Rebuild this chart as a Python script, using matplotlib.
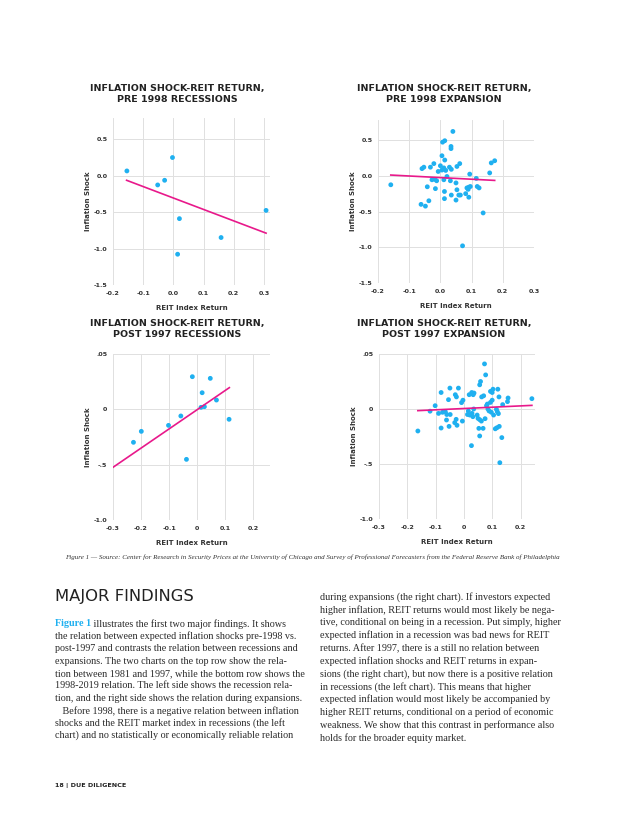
import matplotlib
matplotlib.use("Agg")
import matplotlib.pyplot as plt

# ---------------- data ----------------
titles = ["INFLATION SHOCK-REIT RETURN,\nPRE 1998 RECESSIONS",
          "INFLATION SHOCK-REIT RETURN,\nPRE 1998 EXPANSION",
          "INFLATION SHOCK-REIT RETURN,\nPOST 1997 RECESSIONS",
          "INFLATION SHOCK-REIT RETURN,\nPOST 1997 EXPANSION"]
x_label = "REIT Index Return"
y_label = "Inflation Shock"

top_xticks = [-0.2, -0.1, 0.0, 0.1, 0.2, 0.3]
top_xticklabels = ["-0.2", "-0.1", "0.0", "0.1", "0.2", "0.3"]
top_yticks = [0.5, 0.0, -0.5, -1.0, -1.5]
top_yticklabels = ["0.5", "0.0", "-0.5", "-1.0", "-1.5"]
bot_xticks = [-0.3, -0.2, -0.1, 0.0, 0.1, 0.2]
bot_xticklabels = ["-0.3", "-0.2", "-0.1", "0", "0.1", "0.2"]
bot_yticks = [0.5, 0.0, -0.5, -1.0]
bot_yticklabels = [".05", "0", "-.5", "-1.0"]

p1_x = [-0.154, -0.052, -0.029, -0.003, 0.020, 0.014, 0.158, 0.307]
p1_y = [0.064, -0.128, -0.064, 0.248, -0.590, -1.078, -0.849, -0.477]
p1_fit_x = [-0.155, 0.307]
p1_fit_y = [-0.064, -0.789]

p2_x = [0.040, 0.007, 0.014, 0.034, 0.034, 0.005, 0.014, -0.059, -0.053, -0.032,
        -0.021, 0.000, -0.007, 0.005, 0.011, 0.017, 0.029, 0.035, 0.053, 0.062,
        0.021, 0.011, 0.032, 0.050, -0.027, -0.018, -0.012, -0.042, -0.016, 0.013,
        0.053, 0.035, 0.059, 0.064, 0.013, 0.050, -0.037, -0.062, -0.048, -0.159,
        0.071, 0.094, 0.115, 0.085, 0.091, 0.096, 0.089, 0.081, 0.091, 0.118,
        0.124, 0.137, 0.158, 0.163, 0.174]
p2_y = [0.62, 0.47, 0.49, 0.41, 0.38, 0.28, 0.22, 0.10, 0.12, 0.12,
        0.17, 0.14, 0.06, 0.08, 0.11, 0.075, 0.12, 0.09, 0.13, 0.17,
        -0.01, -0.056, -0.07, -0.10, -0.056, -0.05, -0.07, -0.154, -0.18, -0.22,
        -0.196, -0.27, -0.27, -0.27, -0.32, -0.34, -0.35, -0.40, -0.425, -0.126,
        -0.98, 0.023, -0.037, -0.17, -0.16, -0.15, -0.19, -0.25, -0.30, -0.15,
        -0.17, -0.52, 0.04, 0.18, 0.21]
p2_fit_x = [-0.159, 0.174]
p2_fit_y = [0.010, -0.065]

p3_x = [-0.227, -0.199, -0.102, -0.058, -0.038, -0.017, 0.018, 0.014, 0.026, 0.047, 0.069, 0.114]
p3_y = [-0.298, -0.199, -0.145, -0.060, -0.452, 0.295, 0.150, 0.018, 0.024, 0.280, 0.084, -0.090]
p3_fit_x = [-0.300, 0.115]
p3_fit_y = [-0.524, 0.196]

p4_x = [0.072, 0.076, 0.058, 0.055, -0.081, -0.050, -0.020, -0.031, -0.027, -0.055,
        -0.009, -0.004, 0.027, 0.032, 0.018, 0.035, 0.062, 0.069, 0.093, 0.099,
        0.102, 0.119, 0.123, 0.155, 0.153, 0.136, 0.239, -0.102, -0.120, -0.090,
        -0.076, -0.066, -0.061, -0.049, -0.062, -0.028, -0.033, -0.025, -0.053, -0.081,
        -0.006, 0.015, 0.012, 0.020, 0.028, 0.034, 0.031, 0.046, 0.049, 0.055,
        0.061, 0.074, 0.052, 0.055, 0.067, 0.026, 0.079, 0.082, 0.084, 0.088,
        0.093, 0.099, 0.104, 0.096, 0.114, 0.117, 0.121, 0.110, 0.116, 0.124,
        0.133, 0.126, -0.163]
p4_y = [0.41, 0.31, 0.25, 0.22, 0.15, 0.19, 0.19, 0.13, 0.11, 0.085,
        0.058, 0.08, 0.15, 0.13, 0.13, 0.145, 0.11, 0.12, 0.16, 0.15,
        0.18, 0.18, 0.11, 0.10, 0.067, 0.04, 0.094, 0.03, -0.02, -0.04,
        -0.03, -0.025, -0.05, -0.05, -0.10, -0.094, -0.124, -0.148, -0.158, -0.173,
        -0.11, -0.018, -0.05, -0.055, -0.04, 0.0, -0.07, -0.055, -0.085, -0.097,
        -0.11, -0.088, -0.176, -0.245, -0.176, -0.333, 0.03, 0.045, 0.0, -0.018,
        0.06, 0.08, -0.055, -0.03, -0.003, -0.024, -0.042, -0.18, -0.17, -0.158,
        -0.26, -0.488, -0.20]
p4_fit_x = [-0.163, 0.239]
p4_fit_y = [-0.015, 0.033]

caption = ("Figure 1 \u2014 Source: Center for Research in Security Prices at the University of Chicago "
           "and Survey of Professional Forecasters from the Federal Reserve Bank of Philadelphia")
heading = "MAJOR FINDINGS"
link_text = "Figure 1"
left_lines = [
    " illustrates the first two major findings. It shows",
    "the relation between expected inflation shocks pre-1998 vs.",
    "post-1997 and contrasts the relation between recessions and",
    "expansions. The two charts on the top row show the rela-",
    "tion between 1981 and 1997, while the bottom row shows the",
    "1998-2019 relation. The left side shows the recession rela-",
    "tion, and the right side shows the relation during expansions.",
    "   Before 1998, there is a negative relation between inflation",
    "shocks and the REIT market index in recessions (the left",
    "chart) and no statistically or economically reliable relation",
]
right_lines = [
    "during expansions (the right chart). If investors expected",
    "higher inflation, REIT returns would most likely be nega-",
    "tive, conditional on being in a recession. Put simply, higher",
    "expected inflation in a recession was bad news for REIT",
    "returns. After 1997, there is a still no relation between",
    "expected inflation shocks and REIT returns in expan-",
    "sions (the right chart), but now there is a positive relation",
    "in recessions (the left chart). This means that higher",
    "expected inflation would most likely be accompanied by",
    "higher REIT returns, conditional on a period of economic",
    "weakness. We show that this contrast in performance also",
    "holds for the broader equity market.",
]
footer = "18 | DUE DILIGENCE"

# ---------------- styling ----------------
W, H = 640, 818
plt.rcParams["axes.unicode_minus"] = False
fig = plt.figure(figsize=(W / 100, H / 100), dpi=100)
fig.patch.set_facecolor("white")

DOT = "#1fb0f0"
LINE = "#e8198b"
GRID = "#e0e0e0"
TXT = "#333333"


def rect(l, t, r, b):
    return [l / W, 1 - b / H, (r - l) / W, (b - t) / H]


panels = [
    dict(box=(113, 118, 270, 285), x=p1_x, y=p1_y, fx=p1_fit_x, fy=p1_fit_y,
         xlim=(-0.2, 0.32), ylim=(-1.5, 0.79), xt=top_xticks, xtl=top_xticklabels,
         yt=top_yticks, ytl=top_yticklabels, tc=177, ty=94),
    dict(box=(378, 120, 534, 283), x=p2_x, y=p2_y, fx=p2_fit_x, fy=p2_fit_y,
         xlim=(-0.2, 0.3), ylim=(-1.5, 0.78), xt=top_xticks, xtl=top_xticklabels,
         yt=top_yticks, ytl=top_yticklabels, tc=444, ty=94),
    dict(box=(113, 354, 270, 520), x=p3_x, y=p3_y, fx=p3_fit_x, fy=p3_fit_y,
         xlim=(-0.3, 0.26), ylim=(-1.0, 0.5), xt=bot_xticks, xtl=bot_xticklabels,
         yt=bot_yticks, ytl=bot_yticklabels, tc=177, ty=329),
    dict(box=(379, 354, 535, 519), x=p4_x, y=p4_y, fx=p4_fit_x, fy=p4_fit_y,
         xlim=(-0.3, 0.25), ylim=(-1.0, 0.5), xt=bot_xticks, xtl=bot_xticklabels,
         yt=bot_yticks, ytl=bot_yticklabels, tc=444, ty=329),
]

for i, p in enumerate(panels):
    ax = fig.add_axes(rect(*p["box"]))
    ax.set_xlim(*p["xlim"])
    ax.set_ylim(*p["ylim"])
    for s in ax.spines.values():
        s.set_visible(False)
    ax.set_xticks(p["xt"])
    ax.set_xticklabels(p["xtl"])
    ax.set_yticks(p["yt"])
    ax.set_yticklabels(p["ytl"])
    ax.tick_params(length=0, labelsize=4.6, labelcolor=TXT, pad=4)
    for lab in ax.get_xticklabels() + ax.get_yticklabels():
        lab.set_fontweight("bold")
    ax.grid(True, color=GRID, linewidth=0.7)
    ax.set_axisbelow(True)
    ax.scatter(p["x"], p["y"], s=12, color=DOT, edgecolors="none", zorder=3)
    ax.plot(p["fx"], p["fy"], color=LINE, linewidth=1.2, zorder=4)
    ax.set_xlabel(x_label, fontsize=5, color=TXT, fontweight="bold", labelpad=7)
    ax.set_ylabel(y_label, fontsize=5, color=TXT, fontweight="bold", labelpad=2)
    fig.text(p["tc"] / W, 1 - p["ty"] / H, titles[i], ha="center", va="center",
             fontsize=6.8, fontweight="bold", color="#222222", linespacing=1.15)

# caption
fig.text(65 / W, 1 - 557 / H, caption, ha="left", va="center", fontsize=5.0,
         style="italic", family="Liberation Serif", color="#333333")

# heading
fig.text(55 / W, 1 - 597 / H, heading, ha="left", va="center", fontsize=11.8,
         color="#222222", family="DejaVu Sans")

body_kw = dict(ha="left", va="center", fontsize=7.3, family="Liberation Serif")
BODY = "#2a2a2a"
y0 = 624
step = 12.4
t = fig.text(55 / W, 1 - y0 / H, link_text, color="#1fb0f0", fontweight="bold",
             **body_kw)
fig.canvas.draw()
bb = t.get_window_extent()
fig.text(bb.x1 / W, 1 - y0 / H, left_lines[0], color=BODY, **body_kw)
for k, line in enumerate(left_lines[1:], start=1):
    fig.text(55 / W, 1 - (y0 + k * step) / H, line, color=BODY, **body_kw)

yr = 597
stepr = 12.8
for k, line in enumerate(right_lines):
    fig.text(320 / W, 1 - (yr + k * stepr) / H, line, color=BODY, **body_kw)

fig.text(55 / W, 1 - 785 / H, footer, ha="left", va="center", fontsize=4.6,
         fontweight="bold", color="#222222")

fig.savefig("out.png", dpi=100, facecolor="white")
